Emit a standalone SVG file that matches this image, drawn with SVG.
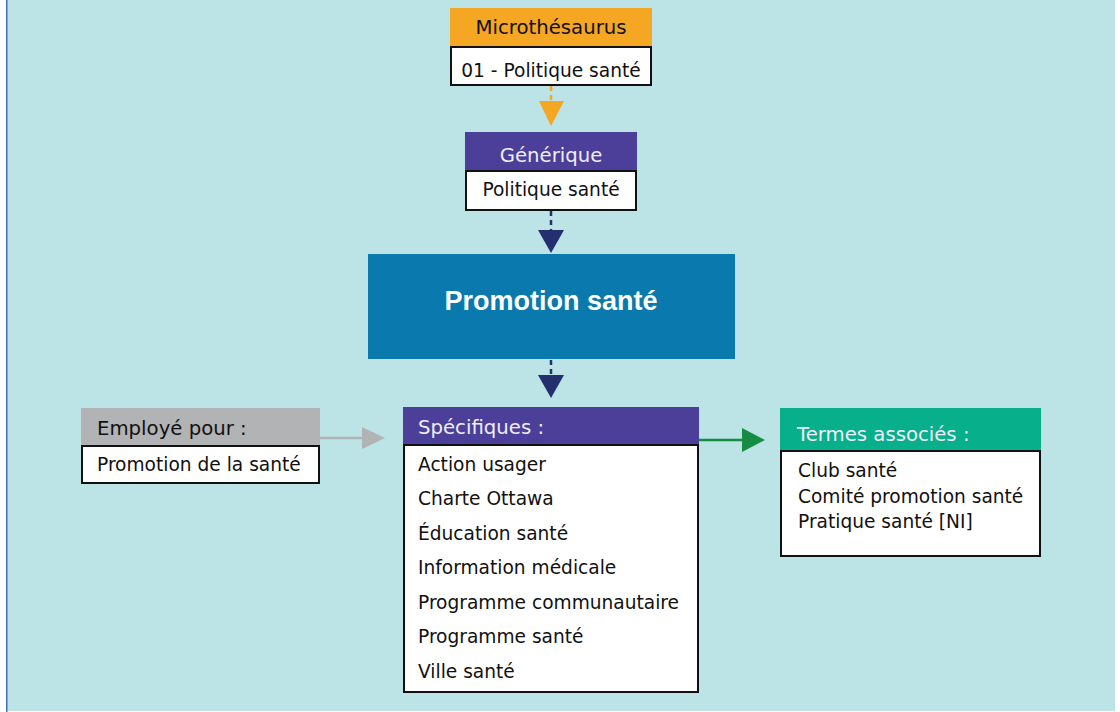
<svg xmlns="http://www.w3.org/2000/svg" width="1120" height="712" viewBox="0 0 1120 712">
<style>
text{font-family:"DejaVu Sans","Liberation Sans",sans-serif;font-size:18.6px;fill:#111}
.h{font-size:19.7px}
.w{fill:#fff}
.hw{fill:#f0eefa}
.body{fill:#fff;stroke:#111;stroke-width:2}
.c{text-anchor:middle}
</style>
<rect x="0" y="0" width="1120" height="712" fill="#fff"/>
<rect x="7" y="0" width="1108" height="711" fill="#bce3e5"/>
<rect x="6" y="0" width="1.5" height="712" fill="#4a6fb0"/>
<g id="connectors">
<line x1="551" y1="86" x2="551" y2="102" stroke="#f5a623" stroke-width="2.5" stroke-dasharray="5,4"/>
<polygon points="539,101 564,101 551,126" fill="#f5a623"/>
<line x1="551" y1="211" x2="551" y2="231" stroke="#232f6e" stroke-width="2.5" stroke-dasharray="5,4"/>
<polygon points="538,230 564,230 551,253" fill="#232f6e"/>
<line x1="551" y1="360" x2="551" y2="376" stroke="#232f6e" stroke-width="2.5" stroke-dasharray="5,4"/>
<polygon points="538,375 564,375 551,398" fill="#232f6e"/>
<line x1="320" y1="438" x2="363" y2="438" stroke="#b1b3b4" stroke-width="2.5"/>
<polygon points="362,427 385,438 362,449" fill="#b1b3b4"/>
<line x1="699" y1="440" x2="743" y2="440" stroke="#178c45" stroke-width="2.5"/>
<polygon points="742,428 765,440 742,452" fill="#178c45"/>
</g>
<g id="microthesaurus">
<rect x="450" y="8" width="202" height="38" fill="#f5a623"/>
<text x="551" y="34" class="c h">Microthésaurus</text>
<rect x="451" y="47" width="200" height="38" class="body"/>
<text x="551" y="77" class="c">01 - Politique santé</text>
</g>
<g id="generique">
<rect x="465" y="132" width="172" height="38" fill="#4b3f99"/>
<text x="551" y="162" class="c h hw">Générique</text>
<rect x="466" y="171" width="170" height="39" class="body"/>
<text x="551" y="196" class="c">Politique santé</text>
</g>
<g id="promotion">
<rect x="368" y="254" width="367" height="105" fill="#0a79ad"/>
<text x="551" y="310" class="c w" style="font-family:'Liberation Sans',Arial,sans-serif;font-size:27px;font-weight:bold">Promotion santé</text>
</g>
<g id="employe">
<rect x="81" y="408" width="239" height="38" fill="#b1b3b4"/>
<text x="97" y="435" class="h">Employé pour :</text>
<rect x="82" y="446" width="237" height="37" class="body"/>
<text x="97" y="471">Promotion de la santé</text>
</g>
<g id="specifiques">
<rect x="403" y="407" width="296" height="37" fill="#4b3f99"/>
<text x="418" y="434" class="h hw">Spécifiques :</text>
<rect x="404" y="445" width="294" height="247" class="body"/>
<text x="418" y="471">Action usager</text>
<text x="418" y="505">Charte Ottawa</text>
<text x="418" y="540">Éducation santé</text>
<text x="418" y="574">Information médicale</text>
<text x="418" y="609">Programme communautaire</text>
<text x="418" y="643">Programme santé</text>
<text x="418" y="678">Ville santé</text>
</g>
<g id="termes">
<rect x="780" y="408" width="261" height="42" fill="#07af8b"/>
<text x="797" y="441" class="h hw">Termes associés :</text>
<rect x="781" y="451" width="259" height="105" class="body"/>
<text x="798" y="477">Club santé</text>
<text x="798" y="503">Comité promotion santé</text>
<text x="798" y="528">Pratique santé [NI]</text>
</g>
</svg>
